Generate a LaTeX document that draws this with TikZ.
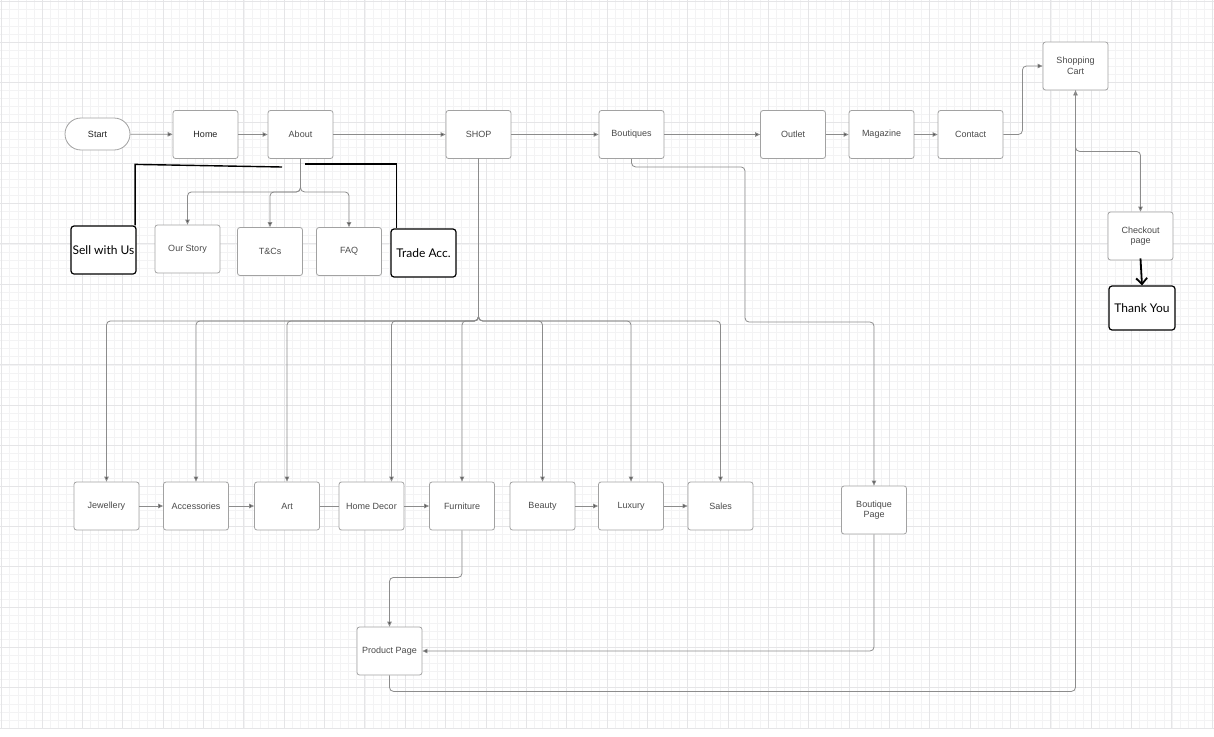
\documentclass[tikz,border=0pt]{standalone}
\usepackage{fontspec}
\newfontfamily\lucfont{Liberation Sans}
\newfontfamily\latofont{Lato}
\usetikzlibrary{arrows.meta,calc}
\definecolor{gridminor}{HTML}{F3F3F4}
\definecolor{gridmajor}{HTML}{E5E5E7}
\definecolor{boxc}{HTML}{A2A2A2}
\definecolor{linec}{HTML}{8C8C8C}
\definecolor{txt}{HTML}{4A4A4A}
\definecolor{txtdark}{HTML}{222222}
\definecolor{tipc}{HTML}{4E4E4E}
\tikzset{
  box/.style={draw=boxc, line width=0.8pt, rounded corners=2.5pt, fill=white,
    minimum width=65pt, minimum height=48pt, inner sep=0pt,
    font=\lucfont\fontsize{9}{10.5}\selectfont, text=txt, align=center},
  startbox/.style={box, minimum height=32pt, rounded corners=16pt},
  blkbox/.style={draw=black, line width=1.2pt, rounded corners=3pt, fill=white,
    minimum width=65pt, minimum height=48pt, inner sep=0pt,
    font=\latofont\fontsize{12}{14}\selectfont, text=black, align=center},
  conn/.style={draw=linec, line width=0.8pt, rounded corners=4pt},
  arr/.style={conn, -{Triangle[length=5pt,width=4.5pt,fill=tipc]}},
  blkline/.style={draw=black, line width=1.4pt},
}
\begin{document}
\begin{tikzpicture}[x=1pt,y=-1pt]
\useasboundingbox (0,0) rectangle (1214,736);
\fill[white] (0,0) rectangle (1214,736);
% grid
\foreach \i in {0,...,150}{
  \draw[gridminor, line width=0.5pt] ({1.65+\i*8.07},0) -- ({1.65+\i*8.07},728);
}
\foreach \j in {0,...,90}{
  \draw[gridminor, line width=0.5pt] (0,{1.65+\j*8.07}) -- (1214,{1.65+\j*8.07});
}
\foreach \i in {0,...,30}{
  \draw[gridmajor, line width=0.7pt] ({1.65+\i*40.35},0) -- ({1.65+\i*40.35},728);
}
\foreach \j in {0,...,18}{
  \draw[gridmajor, line width=0.7pt] (0,{1.65+\j*40.35}) -- (1214,{1.65+\j*40.35});
}

% top row
\node[startbox, text=txtdark] (start) at (97.5,134) {Start};
\node[box, text=txtdark] (home) at (205.5,134.5) {Home};
\node[box] (about) at (300.5,134.5) {About};
\node[box] (shop) at (478.5,134.5) {SHOP};
\node[box] (bout) at (631.5,134.5) {Boutiques};
\node[box] (outlet) at (793,134.5) {Outlet};
\node[box] (mag) at (881.5,134.5) {Magazine};
\node[box] (contact) at (970.5,134.5) {Contact};
\node[box] (cart) at (1075.5,66) {Shopping\\Cart};
\node[box] (check) at (1140.5,236) {Checkout\\page};
\node[blkbox, minimum width=66pt, minimum height=44pt] (thank) at (1142,308) {Thank You};

% about children
\node[blkbox] (sell) at (103.5,250) {Sell with Us};
\node[box] (story) at (187.5,249) {Our Story};
\node[box] (tcs) at (270,251.5) {T\&Cs};
\node[box] (faq) at (349,251.5) {FAQ};
\node[blkbox] (trade) at (423.5,253) {Trade Acc.};

% categories
\node[box] (jew) at (106.5,506) {Jewellery};
\node[box] (acc) at (196,506) {Accessories};
\node[box] (art) at (287,506) {Art};
\node[box] (hdec) at (371.5,506) {Home Decor};
\node[box] (furn) at (462,506) {Furniture};
\node[box] (beauty) at (542.5,506) {Beauty};
\node[box] (lux) at (631,506) {Luxury};
\node[box] (sales) at (720.5,506) {Sales};
\node[box] (bpage) at (874,510) {Boutique\\Page};
\node[box] (prod) at (389.5,651) {Product Page};

% top row connectors
\draw[arr] (start) -- (home);
\draw[arr] (home) -- (about);
\draw[arr] (about) -- (shop);
\draw[arr] (shop) -- (bout);
\draw[arr] (bout) -- (outlet);
\draw[arr] (outlet) -- (mag);
\draw[arr] (mag) -- (contact);
\draw[arr] (contact.east) -- ++(19,0) |- (cart.west);

% about branches
\draw[arr] (about.south) -- ++(0,33) -| (story.north);
\draw[arr] (about.south) -- ++(0,33) -| (tcs.north);
\draw[arr] (about.south) -- ++(0,33) -| (faq.north);

% black lines
\coordinate (sellend) at (282,167);
\coordinate (tradeend) at (305,164);
\draw[blkline] ([xshift=-1.5pt]sell.north east) -- ++(0,-61) -- (sellend);
\draw[blkline] (tradeend) -- ([xshift=6pt]trade.north west |- tradeend) -- ([xshift=6pt]trade.north west);

% shop branches
\foreach \n in {jew,acc,art,furn,beauty,lux,sales}{
  \draw[arr] (shop.south) -- ++(0,162) -| (\n.north);
}
\draw[arr] (shop.south) -- ++(0,162) -| ([xshift=20pt]hdec.north);

% category row
\draw[arr] (jew) -- (acc);
\draw[arr] (acc) -- (art);
\draw[conn] (art) -- (hdec);
\draw[arr] (hdec) -- (furn);
\draw[arr] (beauty) -- (lux);
\draw[arr] (lux) -- (sales);

% boutiques -> boutique page
\draw[arr] (bout.south) -- ++(0,8) -| (745,322) -| (bpage.north);

% furniture -> product page
\draw[arr] (furn.south) -- ++(0,47) -| (prod.north);
% boutique page -> product page
\draw[arr] (bpage.south) |- (prod.east);
% product page -> cart
\draw[arr] (prod.south) -- ++(0,16) -| (cart.south);
% cart -> checkout
\draw[arr] (cart.south) -- ++(0,61) -| (check.north);
% checkout -> thank you
\draw[draw=black, line width=1.8pt, -{Straight Barb[length=6pt,width=11pt]}] ([yshift=2pt]check.south) -- (thank.north);
\end{tikzpicture}
\end{document}
